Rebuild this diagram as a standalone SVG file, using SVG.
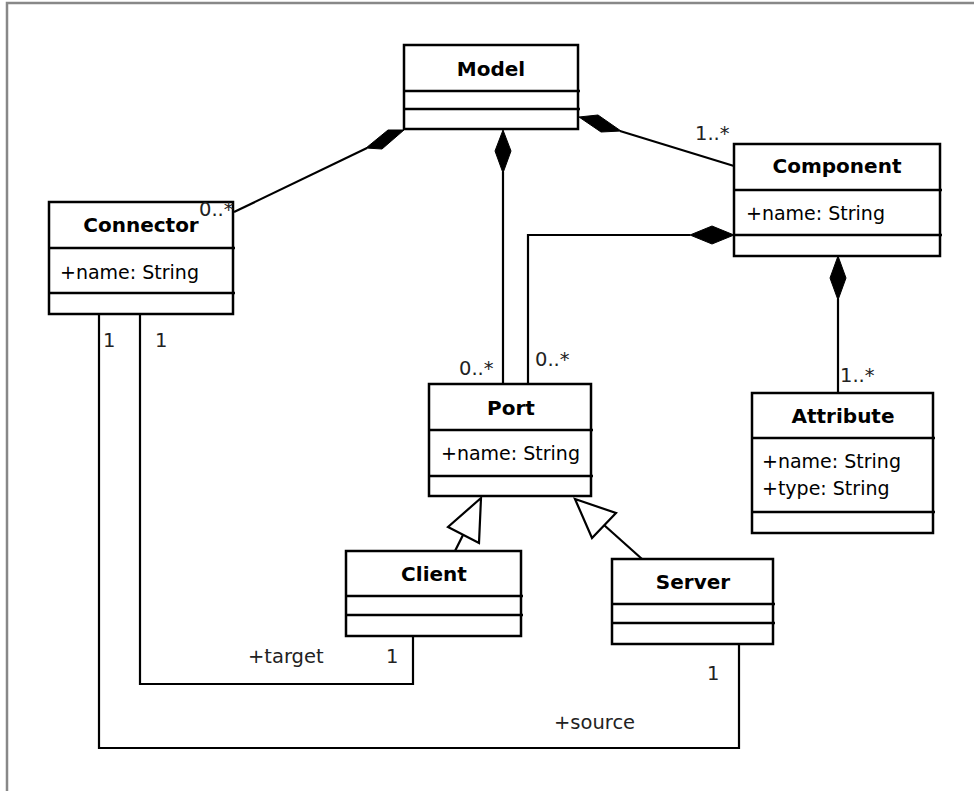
<svg xmlns="http://www.w3.org/2000/svg" width="974" height="791" viewBox="0 0 974 791">
  <style>
    .box { fill: #fff; stroke: #000; stroke-width: 2.5; }
    .div { stroke: #000; stroke-width: 2.5; }
    .title { font-family: "DejaVu Sans", Verdana, sans-serif; font-weight: bold; font-size: 20px; fill: #000; text-anchor: middle; }
    .attr { font-family: "DejaVu Sans", Verdana, sans-serif; font-size: 19px; fill: #000; }
    .lbl { font-family: "DejaVu Sans", Verdana, sans-serif; font-size: 19.5px; fill: #222; }
    .edge { fill: none; stroke: #000; stroke-width: 2.2; }
    .comp { fill: #000; stroke: #000; stroke-width: 1; }
    .gen { fill: #fff; stroke: #000; stroke-width: 2.2; }
  </style>

  <rect width="974" height="791" fill="#fff"/>
  <!-- window frame -->
  <path d="M7,791 V3 H974" fill="none" stroke="#888" stroke-width="2.5"/>

  <g id="connectors">
    <!-- Model ◆— Connector -->
    <line class="edge" x1="234" y1="212" x2="367" y2="148"/>
    <polygon class="comp" points="404,130 388,130 366,148 382,149"/>
    <!-- Model ◆— Component -->
    <line class="edge" x1="620" y1="131" x2="734" y2="166"/>
    <polygon class="comp" points="579,117 598,115 621,131 601,132"/>
    <!-- Model ◆— Port -->
    <line class="edge" x1="503" y1="172" x2="503" y2="384"/>
    <polygon class="comp" points="503,130 511,151 503,173 495,151"/>
    <!-- Component ◆— Port -->
    <polyline class="edge" points="690,235 528,235 528,384"/>
    <polygon class="comp" points="734,235 712,226 690,235 712,244"/>
    <!-- Component ◆— Attribute -->
    <line class="edge" x1="838" y1="299" x2="838" y2="393"/>
    <polygon class="comp" points="838,256 846,278 838,300 830,278"/>
    <!-- Client —▷ Port -->
    <line class="edge" x1="455" y1="551" x2="463" y2="535"/>
    <polygon class="gen" points="481,498 448,527 479,543"/>
    <!-- Server —▷ Port -->
    <line class="edge" x1="642" y1="559" x2="604" y2="525"/>
    <polygon class="gen" points="575,499 616,513 592,538"/>
    <!-- Connector target -> Client -->
    <polyline class="edge" points="140,314 140,684 413,684 413,636"/>
    <!-- Connector source -> Server -->
    <polyline class="edge" points="99,314 99,748 739,748 739,644"/>
  </g>

  <g id="model">
    <rect class="box" x="404" y="45" width="174" height="84"/>
    <line class="div" x1="404" y1="91" x2="580" y2="91"/>
    <line class="div" x1="404" y1="109" x2="580" y2="109"/>
    <text class="title" x="491" y="76">Model</text>
  </g>

  <g id="connector">
    <rect class="box" x="49" y="202" width="184" height="112"/>
    <line class="div" x1="49" y1="248" x2="235" y2="248"/>
    <line class="div" x1="49" y1="293" x2="235" y2="293"/>
    <text class="title" x="141" y="232">Connector</text>
    <text class="attr" x="60" y="279">+name: String</text>
  </g>

  <g id="component">
    <rect class="box" x="734" y="144" width="206" height="112"/>
    <line class="div" x1="734" y1="190" x2="942" y2="190"/>
    <line class="div" x1="734" y1="235" x2="942" y2="235"/>
    <text class="title" x="837" y="173">Component</text>
    <text class="attr" x="746" y="220">+name: String</text>
  </g>

  <g id="port">
    <rect class="box" x="429" y="384" width="162" height="112"/>
    <line class="div" x1="429" y1="430" x2="593" y2="430"/>
    <line class="div" x1="429" y1="476" x2="593" y2="476"/>
    <text class="title" x="511" y="415">Port</text>
    <text class="attr" x="441" y="460">+name: String</text>
  </g>

  <g id="attribute">
    <rect class="box" x="752" y="393" width="181" height="140"/>
    <line class="div" x1="752" y1="438" x2="935" y2="438"/>
    <line class="div" x1="752" y1="512" x2="935" y2="512"/>
    <text class="title" x="843" y="423">Attribute</text>
    <text class="attr" x="762" y="468">+name: String</text>
    <text class="attr" x="762" y="495">+type: String</text>
  </g>

  <g id="client">
    <rect class="box" x="346" y="551" width="175" height="85"/>
    <line class="div" x1="346" y1="596" x2="523" y2="596"/>
    <line class="div" x1="346" y1="615" x2="523" y2="615"/>
    <text class="title" x="434" y="581">Client</text>
  </g>

  <g id="server">
    <rect class="box" x="612" y="559" width="161" height="85"/>
    <line class="div" x1="612" y1="604" x2="775" y2="604"/>
    <line class="div" x1="612" y1="623" x2="775" y2="623"/>
    <text class="title" x="693" y="589">Server</text>
  </g>

  <!-- multiplicities and role names, drawn over the class boxes -->
  <g id="end-labels">
    <text class="lbl" x="199" y="216">0..*</text>
    <text class="lbl" x="695" y="140">1..*</text>
    <text class="lbl" x="459" y="375">0..*</text>
    <text class="lbl" x="535" y="366">0..*</text>
    <text class="lbl" x="840" y="382">1..*</text>
    <text class="lbl" x="103" y="347">1</text>
    <text class="lbl" x="155" y="347">1</text>
    <text class="lbl" x="248" y="663">+target</text>
    <text class="lbl" x="386" y="663">1</text>
    <text class="lbl" x="707" y="680">1</text>
    <text class="lbl" x="554" y="729">+source</text>
  </g>
</svg>
